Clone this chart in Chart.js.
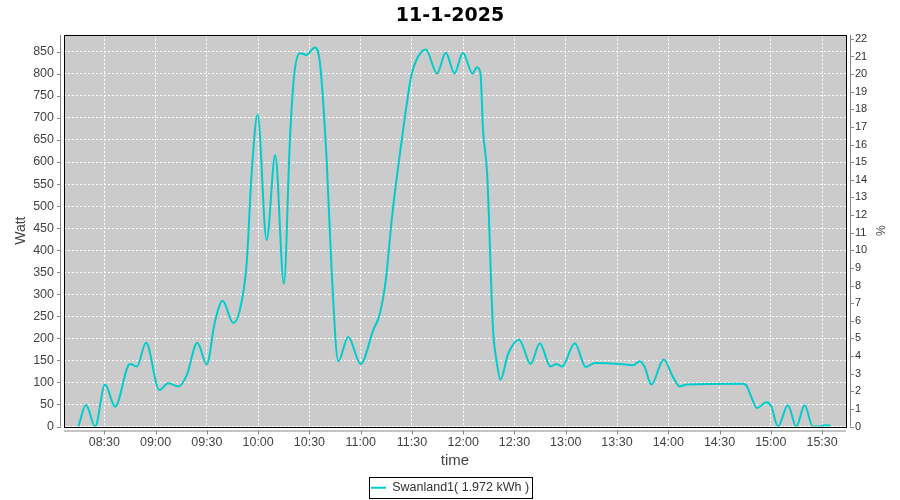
<!DOCTYPE html>
<html>
<head>
<meta charset="utf-8">
<script src="https://cdn.jsdelivr.net/npm/chart.js@4.4.0/dist/chart.umd.min.js"></script>
<style>
  html, body { margin: 0; padding: 0; background: #fff; }
</style>
</head>
<body>
<canvas id="powerChart" width="900" height="500"></canvas>
<script>
// time of each reading, in minutes since midnight
const times = [
  494.8, 499.3, 504.6, 510.4, 516.3, 525, 529, 534.4, 542.2, 547.4,
  553.3, 558.2, 564.4, 569.9, 574.7, 579.2, 585.4, 589, 593.3, 596.2,
  599.7, 605, 610, 615.1, 618.6, 621, 624.4, 628.3, 633.2, 636.2,
  640, 643, 646.9, 652.7, 660, 667.3, 671.2, 674.7, 678.2, 682.3,
  685.8, 689.6, 692.7, 698.1, 704.7, 709.8, 714.9, 719.8, 725.4, 728.1,
  730.1, 731.6, 734, 737.5, 739.5, 741.8, 746.3, 752.7, 759.5, 764.8,
  771.1, 774.6, 777.8, 785.3, 791.7, 797, 811.6, 819.4, 823.3, 826.2,
  830.1, 837.3, 842.8, 846.7, 850.6, 882.8, 885.3, 888.6, 891.9, 897.4,
  900.3, 904.2, 910, 914.9, 919.8, 924.6, 929, 931, 935
];
// power in Watt
const watts = [
  0, 49, 0, 95, 45, 142, 136, 190, 83, 98,
  91, 116, 190, 141, 237, 285, 235, 260, 370, 574,
  707, 423, 616, 324, 650, 794, 847, 843, 860, 824,
  612, 355, 148, 203, 142, 218, 256, 332, 470, 600,
  700, 795, 832, 855, 801, 848, 801, 848, 801, 815,
  801, 673, 574, 218, 150, 106, 165, 197, 142, 189,
  136, 142, 136, 189, 135, 144, 142, 139, 148, 135,
  95, 152, 112, 91, 95, 97, 95, 67, 42, 55,
  45, 0, 48, 0, 48, 0, 0, 3, 2
];

const timeTicks = [510, 540, 570, 600, 630, 660, 690, 720, 750, 780, 810, 840, 870, 900, 930];
const wattTicks = [0, 50, 100, 150, 200, 250, 300, 350, 400, 450, 500, 550, 600, 650, 700, 750, 800, 850];
const pctTicks = [0, 1, 2, 3, 4, 5, 6, 7, 8, 9, 10, 11, 12, 13, 14, 15, 16, 17, 18, 19, 20, 21, 22];

const legendLabel = 'Swanland1( 1.972 kWh )';

const points = times.map((t, i) => ({ x: t, y: watts[i] }));

function hhmm(v) {
  const h = Math.floor(v / 60);
  const m = Math.round(v % 60);
  return String(h).padStart(2, '0') + ':' + String(m).padStart(2, '0');
}

const tickFont = { family: 'Liberation Sans', size: 12.5 };
const axisGray = '#888888';

// plot background, outline, offset axis lines and the legend frame
const framePlugin = {
  id: 'frame',
  beforeDraw(chart) {
    const { ctx, chartArea: a } = chart;
    ctx.save();
    ctx.fillStyle = '#ffffff';
    ctx.fillRect(0, 0, chart.width, chart.height);
    ctx.fillStyle = '#cbcbcb';
    ctx.fillRect(a.left, a.top, a.right - a.left, a.bottom - a.top);
    ctx.restore();
  },
  afterDraw(chart) {
    const { ctx, chartArea: a, scales } = chart;
    ctx.save();
    ctx.lineWidth = 1;

    // gray axis lines
    ctx.strokeStyle = axisGray;
    ctx.beginPath();
    ctx.moveTo(a.left - 3.5, a.top);
    ctx.lineTo(a.left - 3.5, a.bottom);
    ctx.moveTo(a.left, a.bottom + 4.5);
    ctx.lineTo(a.right, a.bottom + 4.5);
    ctx.moveTo(a.right + 4.5, a.top);
    ctx.lineTo(a.right + 4.5, a.bottom);
    // tick marks
    scales.y.ticks.forEach((t) => {
      const py = Math.round(scales.y.getPixelForValue(t.value)) + 0.5;
      ctx.moveTo(a.left - 7, py);
      ctx.lineTo(a.left - 3, py);
    });
    scales.y2.ticks.forEach((t) => {
      const py = Math.round(scales.y2.getPixelForValue(t.value)) + 0.5;
      ctx.moveTo(a.right + 4, py);
      ctx.lineTo(a.right + 8, py);
    });
    scales.x.ticks.forEach((t) => {
      const px = Math.round(scales.x.getPixelForValue(t.value)) + 0.5;
      ctx.moveTo(px, a.bottom + 4);
      ctx.lineTo(px, a.bottom + 8);
    });
    ctx.stroke();

    // black plot outline
    ctx.strokeStyle = '#000000';
    ctx.strokeRect(Math.round(a.left) + 0.5, Math.round(a.top) + 0.5,
      Math.round(a.right - a.left), Math.round(a.bottom - a.top));

    // legend frame
    const hb = chart.legend.legendHitBoxes[0];
    if (hb) {
      ctx.strokeRect(Math.round(hb.left) - 1.5, Math.round(hb.top) - 4.5,
        Math.round(hb.width) + 5, Math.round(hb.height) + 8);
    }
    ctx.restore();
  }
};

const ctx = document.getElementById('powerChart').getContext('2d');
new Chart(ctx, {
  type: 'line',
  data: {
    datasets: [{
      label: legendLabel,
      data: points,
      yAxisID: 'y',
      borderColor: '#00cccc',
      backgroundColor: '#00cccc',
      borderWidth: 2,
      pointRadius: 0,
      fill: false,
      cubicInterpolationMode: 'monotone'
    }]
  },
  options: {
    responsive: false,
    animation: false,
    layout: { padding: { top: 0, left: 0, right: 0, bottom: -4 } },
    plugins: {
      title: {
        display: true,
        text: '11-1-2025',
        color: '#000000',
        font: { family: 'DejaVu Sans', size: 19, weight: 'bold' },
        padding: { top: 5, bottom: 7 }
      },
      legend: {
        position: 'bottom',
        labels: {
          usePointStyle: true,
          pointStyle: 'line',
          pointStyleWidth: 15,
          color: '#333333',
          font: tickFont,
          padding: 3
        }
      },
      tooltip: { enabled: false }
    },
    scales: {
      x: {
        type: 'linear',
        min: 486.4,
        max: 944,
        afterBuildTicks: (s) => { s.ticks = timeTicks.map((v) => ({ value: v })); },
        afterFit: (s) => { s.height = 52; },
        ticks: {
          callback: (v) => hhmm(v),
          font: tickFont,
          color: '#444444',
          padding: 9,
          maxRotation: 0,
          autoSkip: false
        },
        grid: { color: '#ffffff', drawTicks: false },
        border: { display: false, dash: [2, 2] },
        title: {
          display: true,
          text: 'time',
          color: '#444444',
          font: { family: 'Liberation Sans', size: 15 },
          padding: { top: 0, bottom: 9 }
        }
      },
      y: {
        position: 'left',
        min: 0,
        max: 888.6,
        afterBuildTicks: (s) => { s.ticks = wattTicks.map((v) => ({ value: v })); },
        afterFit: (s) => { s.width = 64; },
        ticks: { font: tickFont, color: '#444444', padding: 10 },
        grid: { color: '#ffffff', drawTicks: false },
        border: { display: false, dash: [2, 2] },
        title: {
          display: true,
          text: 'Watt',
          color: '#444444',
          font: { family: 'Liberation Sans', size: 14 },
          padding: { top: 13, bottom: 0 }
        }
      },
      y2: {
        position: 'right',
        min: 0,
        max: 22.23,
        afterBuildTicks: (s) => { s.ticks = pctTicks.map((v) => ({ value: v })); },
        afterFit: (s) => { s.width = 54; },
        ticks: { font: { family: 'Liberation Sans', size: 11 }, color: '#333333', padding: 9 },
        grid: { drawOnChartArea: false, drawTicks: false },
        border: { display: false },
        title: {
          display: true,
          text: '%',
          color: '#444444',
          font: { family: 'Liberation Sans', size: 12 },
          padding: { top: 13, bottom: 0 }
        }
      }
    }
  },
  plugins: [framePlugin]
});
</script>
</body>
</html>
